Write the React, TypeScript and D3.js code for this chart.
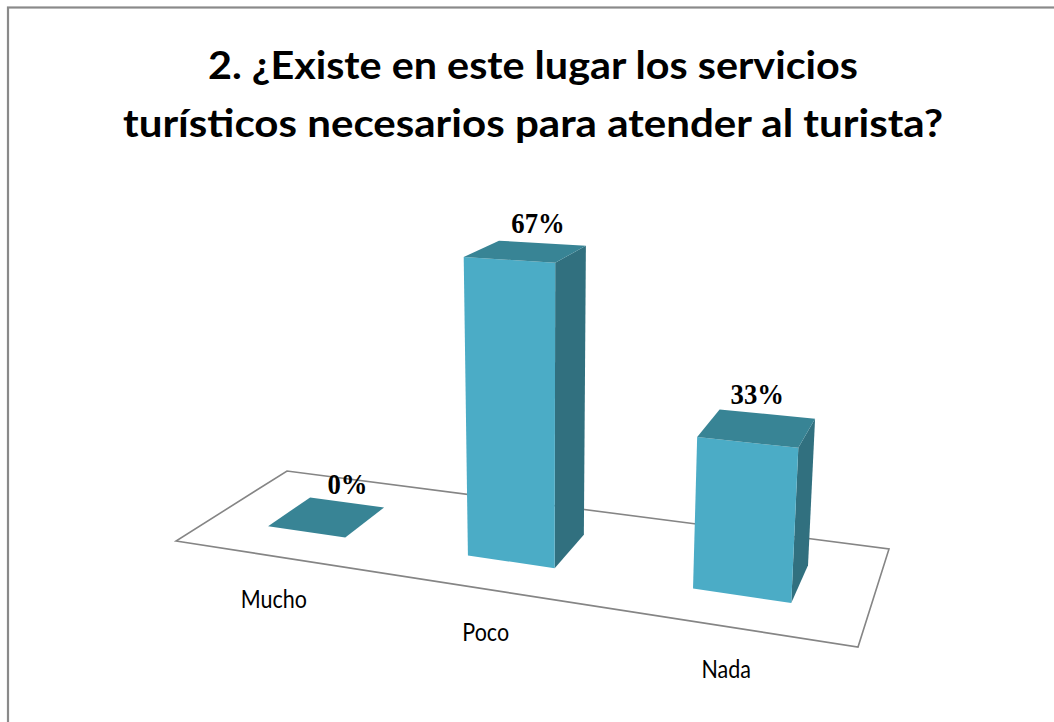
import React from "react";
import * as d3 from "d3";

// ---- data ----
const categories: string[] = ["Mucho", "Poco", "Nada"];
const values: number[] = [0, 0.67, 0.33];
const seriesNames: string[] = ["Serie 1"];
const titleLines: string[] = [
  "2. ¿Existe en este lugar los servicios",
  "turísticos necesarios para atender al turista?",
];

// ---- layout ----
const W = 1054;
const H = 722;
const floorQuad: [number, number][] = [
  [176, 541], // front-left
  [858, 647], // front-right
  [889, 549], // back-right
  [287, 471], // back-left
];
const vanish: [number, number] = [545, 6021];
const unitRise = -4.503;

const COLORS = {
  front: "#4bacc6",
  side: "#31707f",
  top: "#388495",
  floorStroke: "#858585",
  border: "#8a8a8a",
};

function makeProjection() {
  const [[x0, y0], [x1, y1], [x2, y2], [x3, y3]] = floorQuad;
  const dx1 = x1 - x2, dx2 = x3 - x2, sx = x0 - x1 + x2 - x3;
  const dy1 = y1 - y2, dy2 = y3 - y2, sy = y0 - y1 + y2 - y3;
  const den = dx1 * dy2 - dx2 * dy1;
  const g = (sx * dy2 - dx2 * sy) / den;
  const h = (dx1 * sy - sx * dy1) / den;
  const a = x1 - x0 + g * x1, b = x3 - x0 + h * x3, c = x0;
  const d = y1 - y0 + g * y1, e = y3 - y0 + h * y3, f = y0;
  const q = unitRise, r = q / vanish[1], p = vanish[0] * r;
  return (u: number, v: number, z: number): [number, number] => {
    const w = g * u + h * v + 1 + r * z;
    return [(a * u + b * v + c + p * z) / w, (d * u + e * v + f + q * z) / w];
  };
}

export default function App() {
  const project = makeProjection();
  const xBand = d3
    .scaleBand<string>()
    .domain(categories)
    .range([0, 1])
    .paddingInner(0.6)
    .paddingOuter(0.3);
  const depthBand = d3
    .scaleBand<string>()
    .domain(seriesNames)
    .range([0, 1])
    .paddingInner(0.6)
    .paddingOuter(0.3);
  const hScale = d3.scaleLinear().domain([0, 1]).range([0, 100]);
  const fmt = d3.format(".0%");

  const poly = (pts: [number, number][]) =>
    (d3.line()(pts) as string) + "Z";

  const v0 = depthBand(seriesNames[0]) as number;
  const v1 = v0 + depthBand.bandwidth();

  const floor = poly([
    project(0, 0, 0),
    project(1, 0, 0),
    project(1, 1, 0),
    project(0, 1, 0),
  ]);

  const bars = categories.map((cat, i) => {
    const u0 = xBand(cat) as number;
    const u1 = u0 + xBand.bandwidth();
    const uc = u0 + xBand.bandwidth() / 2;
    const z = hScale(values[i]);
    const front = poly([project(u0, v0, 0), project(u1, v0, 0), project(u1, v0, z), project(u0, v0, z)]);
    const side = poly([project(u1, v0, 0), project(u1, v1, 0), project(u1, v1, z), project(u1, v0, z)]);
    const top = poly([project(u0, v0, z), project(u1, v0, z), project(u1, v1, z), project(u0, v1, z)]);
    const lu = 0.5 + (uc - 0.5) * 0.97;
    const lp = project(lu, 0.65, z);
    const cp = project(uc, 0, 0);
    return { cat, z, front, side, top, lp, cp, value: values[i] };
  });

  return (
    <svg
      width={W}
      height={H}
      style={{ position: "absolute", left: 0, top: 0, background: "#ffffff" }}
    >
      <rect x={0} y={0} width={W} height={H} fill="#ffffff" />
      <rect
        x={8}
        y={7.5}
        width={W + 20}
        height={H + 20}
        fill="none"
        stroke={COLORS.border}
        strokeWidth={2.2}
      />
      {titleLines.map((t, i) => (
        <text
          key={i}
          x={533}
          y={79 + i * 58}
          textAnchor="middle"
          fontFamily="Lato, 'Open Sans', sans-serif"
          fontWeight="bold"
          fontSize={39}
          textLength={i === 0 ? 650 : 820}
          lengthAdjust="spacingAndGlyphs"
          fill="#000"
        >
          {t}
        </text>
      ))}
      <path d={floor} fill="#ffffff" stroke={COLORS.floorStroke} strokeWidth={1.6} />
      {bars.map((b) => (
        <g key={b.cat}>
          {b.z > 0 && <path d={b.side} fill={COLORS.side} />}
          {b.z > 0 && <path d={b.front} fill={COLORS.front} />}
          <path d={b.top} fill={COLORS.top} />
        </g>
      ))}
      {bars.map((b) => (
        <text
          key={"l" + b.cat}
          transform={`translate(${b.lp[0]},${b.lp[1] - 12.5}) scale(0.92,1)`}
          textAnchor="middle"
          fontFamily="'Liberation Serif', 'Times New Roman', serif"
          fontWeight="bold"
          fontSize={29}
          fill="#000"
        >
          {fmt(b.value)}
        </text>
      ))}
      {bars.map((b) => (
        <text
          key={"c" + b.cat}
          transform={`translate(${b.cp[0] + 1},${b.cp[1] + 52}) scale(0.86,1)`}
          textAnchor="middle"
          fontFamily="Lato, 'Open Sans', sans-serif"
          fontSize={25}
          fill="#000"
        >
          {b.cat}
        </text>
      ))}
    </svg>
  );
}
